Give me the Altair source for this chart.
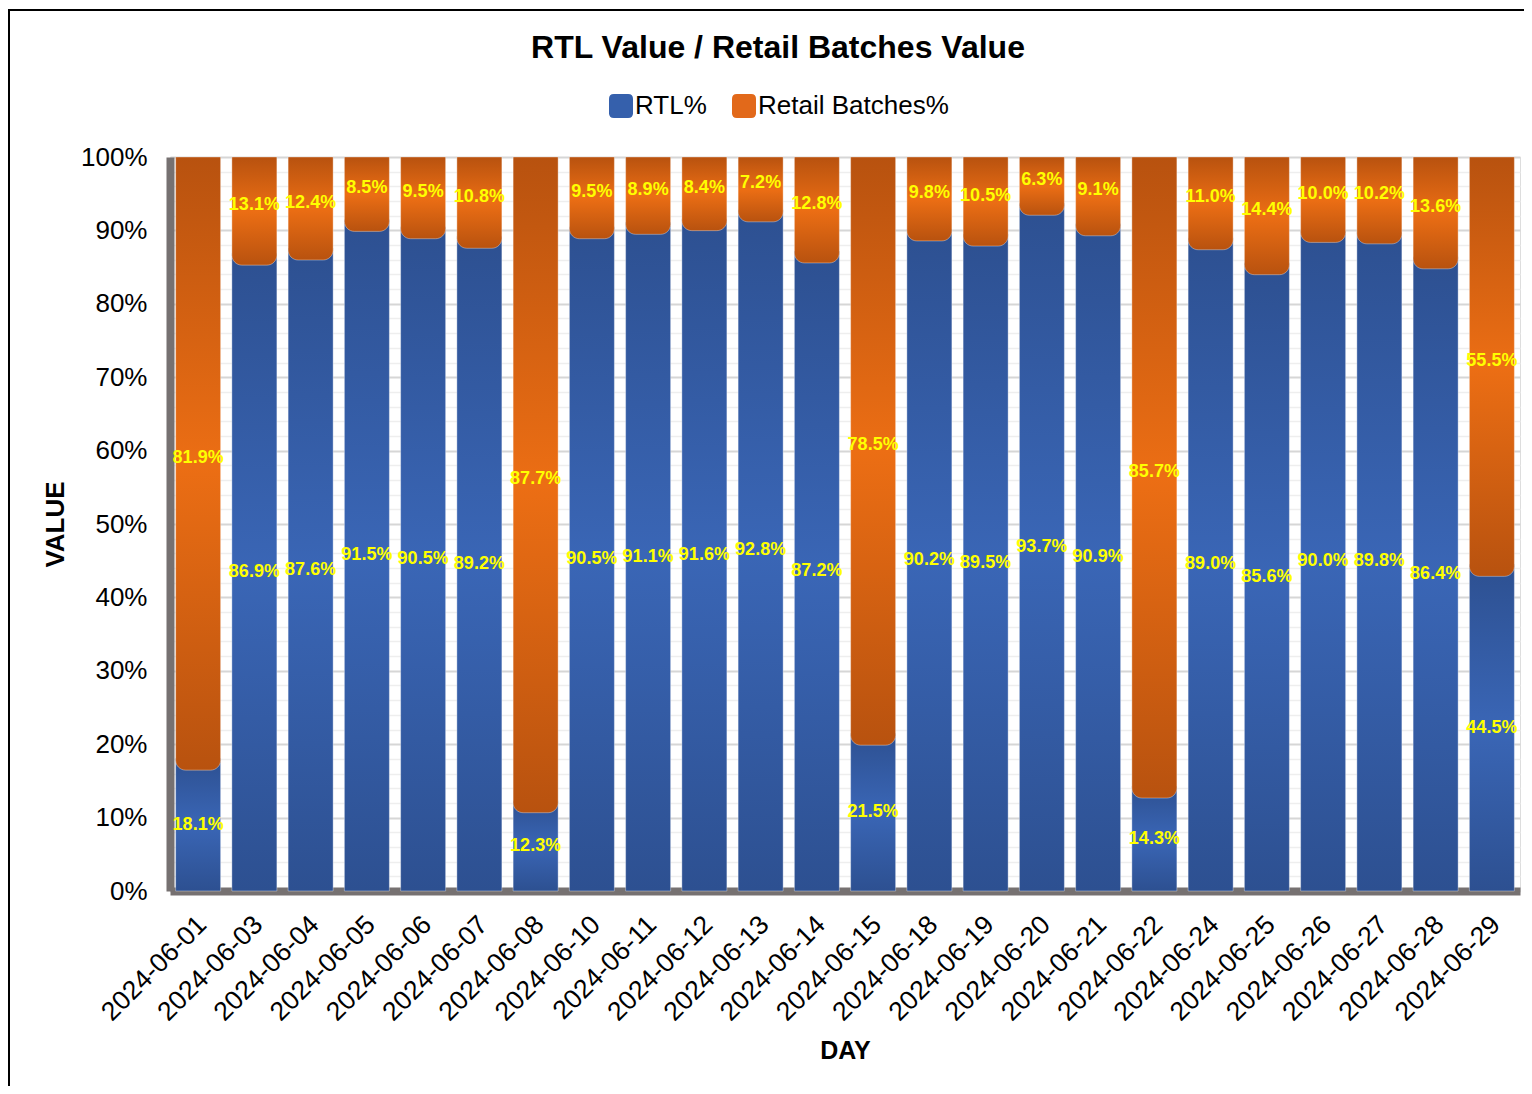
import altair as alt
import pandas as pd

days = ["2024-06-01", "2024-06-03", "2024-06-04", "2024-06-05", "2024-06-06", "2024-06-07",
        "2024-06-08", "2024-06-10", "2024-06-11", "2024-06-12", "2024-06-13", "2024-06-14",
        "2024-06-15", "2024-06-18", "2024-06-19", "2024-06-20", "2024-06-21", "2024-06-22",
        "2024-06-24", "2024-06-25", "2024-06-26", "2024-06-27", "2024-06-28", "2024-06-29"]
rtl_pct = [18.1, 86.9, 87.6, 91.5, 90.5, 89.2, 12.3, 90.5, 91.1, 91.6, 92.8, 87.2,
           21.5, 90.2, 89.5, 93.7, 90.9, 14.3, 89.0, 85.6, 90.0, 89.8, 86.4, 44.5]
retail_pct = [81.9, 13.1, 12.4, 8.5, 9.5, 10.8, 87.7, 9.5, 8.9, 8.4, 7.2, 12.8,
              78.5, 9.8, 10.5, 6.3, 9.1, 85.7, 11.0, 14.4, 10.0, 10.2, 13.6, 55.5]
series_names = ["RTL%", "Retail Batches%"]
series_colors = ["#3560AC", "#E2691A"]

FONT = "Liberation Sans"

df = pd.DataFrame({"day": days, "rtl": rtl_pct, "retail": retail_pct})
df["zero"] = 0.0
df["total"] = df["rtl"] + df["retail"]
df["rtl_mid"] = df["rtl"] / 2
df["retail_mid"] = df["rtl"] + df["retail"] / 2
df["rtl_label"] = [f"{v:.1f}%" for v in rtl_pct]
df["retail_label"] = [f"{v:.1f}%" for v in retail_pct]

long_df = pd.DataFrame({
    "day": days + days,
    "series": [series_names[0]] * len(days) + [series_names[1]] * len(days),
    "value": rtl_pct + [r + t for r, t in zip(rtl_pct, retail_pct)],
})

x_enc = alt.X(
    "day:N", sort=days, title="DAY",
    scale=alt.Scale(paddingInner=0.2, paddingOuter=0.1),
    axis=alt.Axis(labelAngle=-45, labelFontSize=26.5, labelFont=FONT, labelColor="#000000",
                  labelPadding=20, labelOffset=-5, ticks=False, domainColor="#767171", domainWidth=8,
                  titleFontSize=25, titleFont=FONT, titleFontWeight="bold", titleColor="#000000",
                  titlePadding=13, grid=False, labelOverlap=False),
)


def y_enc(field):
    return alt.Y(
        field, title="VALUE",
        scale=alt.Scale(domain=[0, 100], nice=False, zero=True),
        axis=alt.Axis(values=list(range(0, 101, 2)),
                      labelExpr="datum.value % 10 === 0 ? datum.value + '%' : ''",
                      labelFontSize=26, labelFont=FONT, labelColor="#000000", labelPadding=23,
                      ticks=False, domainColor="#767171", domainWidth=8,
                      grid=True,
                      gridColor={"condition": {"test": "datum.value % 10 === 0", "value": "#D6D6D6"},
                                 "value": "#EEEEEE"},
                      gridWidth={"condition": {"test": "datum.value % 10 === 0", "value": 2},
                                 "value": 1.5},
                      titleFontSize=26, titleFont=FONT, titleFontWeight="bold", titleColor="#000000",
                      titlePadding=12),
    )


blue_grad = alt.LinearGradient(
    gradient="linear", x1=0, y1=0, x2=0, y2=1,
    stops=[alt.GradientStop(color="#2D5091", offset=0),
           alt.GradientStop(color="#3A66B6", offset=0.5),
           alt.GradientStop(color="#2D5091", offset=1)],
)
orange_grad = alt.LinearGradient(
    gradient="linear", x1=0, y1=0, x2=0, y2=1,
    stops=[alt.GradientStop(color="#B8520F", offset=0),
           alt.GradientStop(color="#EC6E14", offset=0.5),
           alt.GradientStop(color="#B8520F", offset=1)],
)

base = alt.Chart(df)

# legend-only layer (zero-height bars carry the colour scale)
legend_layer = alt.Chart(long_df).mark_bar().encode(
    x=x_enc,
    y=y_enc("value:Q"),
    y2="value:Q",
    color=alt.Color(
        "series:N",
        scale=alt.Scale(domain=series_names, range=series_colors),
        legend=alt.Legend(
            title=None, orient="none", direction="horizontal",
            legendX=438, legendY=-64, padding=0,
            symbolType="M -0.6 -1 H 0.6 Q 1 -1 1 -0.6 V 0.6 Q 1 1 0.6 1 H -0.6 Q -1 1 -1 0.6 V -0.6 Q -1 -1 -0.6 -1 Z",
            symbolSize=576, symbolStrokeWidth=0, symbolOpacity=1,
            labelFontSize=26, labelFont=FONT, labelColor="#000000", labelOffset=1,
            labelLimit=400, columnPadding=24,
        ),
    ),
)

blue_bars = base.mark_bar(fill=blue_grad, stroke="#FFFFFF", strokeOpacity=0.35, strokeWidth=1).encode(
    x=x_enc, y=y_enc("rtl:Q"), y2="zero:Q",
)

orange_bars = base.mark_bar(
    fill=orange_grad, stroke="#FFFFFF", strokeOpacity=0.35, strokeWidth=1,
    y2Offset=12, cornerRadiusBottomLeft=10, cornerRadiusBottomRight=10,
).encode(
    x=x_enc, y=y_enc("total:Q"), y2="rtl:Q",
)

rtl_text = base.mark_text(color="#FFFF00", fontSize=18, fontWeight="bold", font=FONT,
                          align="center", baseline="middle").encode(
    x=x_enc, y=y_enc("rtl_mid:Q"), text="rtl_label:N",
)
retail_text = base.mark_text(color="#FFFF00", fontSize=18, fontWeight="bold", font=FONT,
                             align="center", baseline="middle").encode(
    x=x_enc, y=y_enc("retail_mid:Q"), text="retail_label:N",
)

frame = alt.Chart(pd.DataFrame({"k": [0]})).mark_rect(
    fillOpacity=0, stroke="#000000", strokeWidth=2,
).encode(
    x=alt.value(-161), x2=alt.value(1500), y=alt.value(-147), y2=alt.value(1200),
)

chart = alt.layer(
    legend_layer, blue_bars, orange_bars, rtl_text, retail_text, frame,
).properties(
    width=1350, height=734,
    title=alt.Title("RTL Value / Retail Batches Value", fontSize=32, font=FONT,
                    fontWeight="bold", color="#000000", anchor="middle", dx=-67,
                    offset=-81, baseline="alphabetic"),
    autosize=alt.AutoSizeParams(type="none"),
    padding={"left": 162, "top": 149, "right": 4, "bottom": 195},
).configure_view(stroke=None).configure(background="#FFFFFF")

chart.save("out.html", embed_options={"renderer": "svg", "actions": False})
